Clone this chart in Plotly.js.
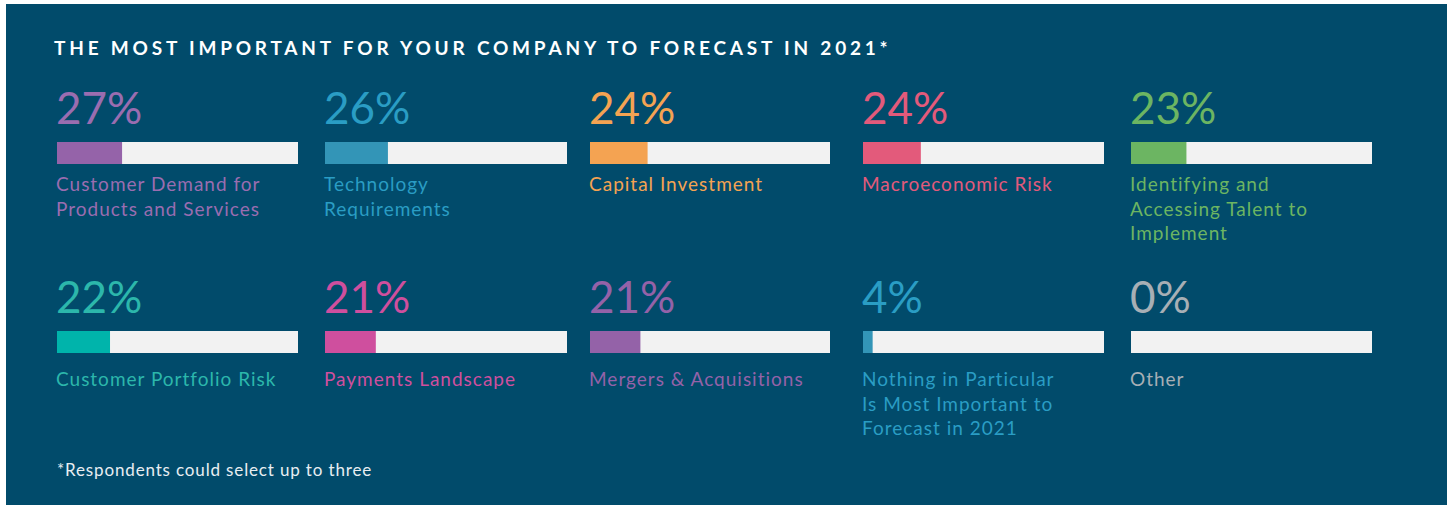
<!DOCTYPE html>
<html>
<head>
<meta charset="utf-8">
<script src="https://cdn.plot.ly/plotly-3.0.1.min.js"></script>
<style>
  html, body { margin: 0; padding: 0; background: #ffffff; }
  #chart { width: 1453px; height: 505px; }
  .gtitle { letter-spacing: 3.8px; }
</style>
</head>
<body>
<div id="chart"></div>
<script>
// ---- Data ----
const categories = [
  "Customer Demand for<br>Products and Services",
  "Technology<br>Requirements",
  "Capital Investment",
  "Macroeconomic Risk",
  "Identifying and<br>Accessing Talent to<br>Implement",
  "Customer Portfolio Risk",
  "Payments Landscape",
  "Mergers & Acquisitions",
  "Nothing in Particular<br>Is Most Important to<br>Forecast in 2021",
  "Other"
];
const values = [27, 26, 24, 24, 23, 22, 21, 21, 4, 0];
const barColors = ["#9563a9", "#3395b7", "#f4a352", "#e35a7b", "#6cb562",
                   "#00b4ab", "#cf4f9e", "#9462a8", "#3395b7", "#a7afb5"];
const textColors = ["#9a6db0", "#2a9dc4", "#f4a352", "#e35a7b", "#6cb562",
                    "#2cb7ab", "#cf4f9e", "#9462a8", "#2a9dc4", "#a7afb5"];
const titleText = "THE MOST IMPORTANT FOR YOUR COMPANY TO FORECAST IN 2021*";
const footnote = "*Respondents could select up to three";

// ---- Layout geometry (pixels) ----
const W = 1453, H = 505;
const colPx = [[57, 298], [325, 567], [590, 830], [863, 1104], [1131, 1372]];
const rowPx = [[142, 164], [331, 353]];
const labelOffset = [28, 34];
const px = v => v / W;
const py = v => (H - v) / H;

const traces = [];
const annotations = [];
const layout = {
  width: W, height: H,
  margin: {l: 0, r: 0, t: 0, b: 0},
  paper_bgcolor: "#ffffff",
  plot_bgcolor: "rgba(0,0,0,0)",
  showlegend: false,
  barmode: "overlay",
  hovermode: false,
  font: {family: "Lato, 'Open Sans', sans-serif"},
  title: {
    text: titleText,
    x: px(54), xanchor: "left", xref: "paper",
    y: py(48), yanchor: "middle", yref: "paper",
    font: {family: "Lato, sans-serif", size: 19, color: "#ffffff", weight: 700}
  },
  shapes: [{
    type: "rect", xref: "paper", yref: "paper", layer: "below",
    x0: px(6), x1: px(1447), y0: py(505), y1: py(4),
    fillcolor: "#014b6b", line: {width: 0}
  }]
};

colPx.forEach((c, i) => {
  const key = "xaxis" + (i === 0 ? "" : i + 1);
  layout[key] = {domain: [px(c[0]), px(c[1])], range: [0, 100], visible: false,
                 fixedrange: true, anchor: "y"};
});
rowPx.forEach((r, j) => {
  const key = "yaxis" + (j === 0 ? "" : j + 1);
  layout[key] = {domain: [py(r[1]), py(r[0])], range: [-0.5, 0.5], visible: false,
                 fixedrange: true, anchor: "x"};
});

values.forEach((v, k) => {
  const col = k % 5, row = Math.floor(k / 5);
  const xa = "x" + (col === 0 ? "" : col + 1);
  const ya = "y" + (row === 0 ? "" : row + 1);
  traces.push({
    type: "bar", orientation: "h", x: [100], y: [0], width: [1],
    xaxis: xa, yaxis: ya, marker: {color: "#f2f2f2", line: {width: 0}},
    hoverinfo: "skip"
  });
  traces.push({
    type: "bar", orientation: "h", x: [v], y: [0], width: [1],
    xaxis: xa, yaxis: ya, marker: {color: barColors[k], line: {width: 0}},
    hoverinfo: "skip"
  });
  const top = rowPx[row][0];
  const left = colPx[col][0];
  // percentage label
  annotations.push({
    text: v + "%", xref: "paper", yref: "paper",
    x: px(left - 3), xanchor: "left",
    y: py(top - 35), yanchor: "middle",
    showarrow: false, align: "left",
    font: {family: "Lato, sans-serif", size: 44, color: textColors[k], weight: 400}
  });
  // category label
  annotations.push({
    text: categories[k], xref: "paper", yref: "paper",
    x: px(left - 3), xanchor: "left",
    y: py(top + labelOffset[row]), yanchor: "top",
    showarrow: false, align: "left",
    font: {family: "Lato, sans-serif", size: 19, color: textColors[k]}
  });
});

annotations.push({
  text: footnote, xref: "paper", yref: "paper",
  x: px(55), xanchor: "left", y: py(470), yanchor: "middle",
  showarrow: false, align: "left",
  font: {family: "Lato, sans-serif", size: 17, color: "#e8eef2"}
});
layout.annotations = annotations;

Plotly.newPlot("chart", traces, layout, {staticPlot: true, displayModeBar: false}).then(gd => {
  gd.querySelectorAll(".annotation-text").forEach(t => {
    const fs = parseFloat(t.style.fontSize || "0");
    if (fs < 18) t.style.letterSpacing = "0.85px";
    else if (fs < 30) t.style.letterSpacing = "1px";
  });
});
</script>
</body>
</html>
